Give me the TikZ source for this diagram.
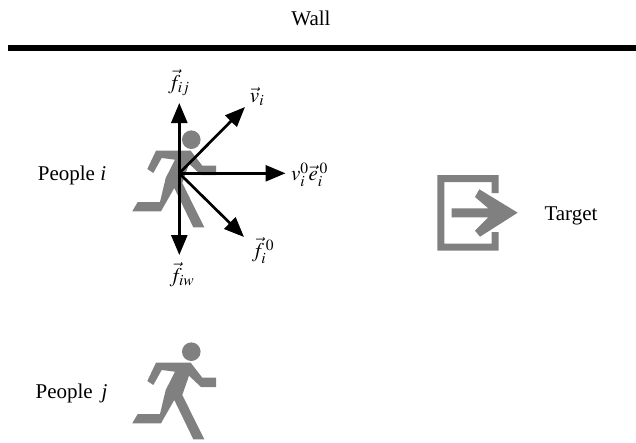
\documentclass[tikz,border=0pt]{standalone}
\usepackage{mathptmx}
\usepackage[no-math]{fontspec}
\setmainfont{Liberation Serif}
\usetikzlibrary{arrows.meta}
\colorlet{signgray}{black!50}
\tikzset{
  x=1pt,y=-1pt,
  lbl/.style={inner sep=0pt,font=\fontsize{21}{25}\selectfont},
  mathlbl/.style={inner sep=0pt,font=\fontsize{21}{25}\selectfont},
  force/.style={line width=2.7pt,-{Triangle[length=20pt,width=16pt]},shorten >=0pt},
  runner/.pic={
    \fill[signgray] (191.3,351.7) circle (9.3);
    \fill[signgray] (156,362.7)--(190.7,362.7)--(202.3,377.7)--(216,377.7)--(216,387)--(201,387)--(189,375.7)--(182.3,395)--(204.3,439.3)--(193.3,439.3)--(174.3,400)--(161,423.3)--(132.3,423.3)--(137.7,414)--(160,414)--(165.7,390)--(175,371.7)--(161.7,370)--(153.3,385)--(147.3,381)--cycle;
  }
}
\begin{document}
\begin{tikzpicture}
\useasboundingbox (0,0) rectangle (636,442);
% wall
\coordinate (wallL) at (8,47.8);
\coordinate (wallR) at (636,47.8);
\draw[line width=5.4pt] (wallL) -- (wallR);
\node[lbl] (wall) at (311,18) {Wall};
% runners
\pic at (0,-212) {runner};
\pic at (0,0) {runner};
\node[lbl] (pi) at (72,175.5) {People \textit{i}};
\node[lbl] (pj) at (71.5,393.5) {People\, \textit{j}};
% target
\fill[signgray] (437.3,175) -- (498.7,175) -- (498.7,193) -- (491.7,193) -- (491.7,182) -- (444.3,182) -- (444.3,243.7) -- (491.7,243.7) -- (491.7,232) -- (498.7,232) -- (498.7,250.7) -- (437.3,250.7) -- cycle;
\fill[white] (476,187) -- (520,212.7) -- (476,238) -- cycle;
\fill[signgray] (451.7,208.3) -- (488.3,208.3) -- (475,197) -- (479.3,189.3) -- (517.7,212.7) -- (480,236.7) -- (475,230.7) -- (488.3,217.3) -- (451.7,217.3) -- cycle;
\node[lbl] (target) at (571,215.5) {Target};
% forces
\coordinate (o) at (179.3,173.3);
\coordinate (up) at (179.3,103);
\coordinate (dn) at (179.3,255);
\coordinate (rt) at (285.5,173.3);
\coordinate (ur) at (245,107);
\coordinate (dr) at (244,237);
\draw[force] (o) -- (up);
\draw[force] (o) -- (dn);
\draw[force] (o) -- (rt);
\draw[force] (o) -- (ur);
\draw[force] (o) -- (dr);
\node[mathlbl] (fij) at (179,83) {$\vec{f}_{ij}$};
\node[mathlbl] (fiw) at (182,275) {$\vec{f}_{iw}$};
\node[mathlbl] (vi) at (257,97) {$\vec{v}_{i}$};
\node[mathlbl] (ve) at (309.5,175) {$v_i^0\vec{e}_i^{\,0}$};
\node[mathlbl] (f0) at (263,251) {$\vec{f}_i^{\,0}$};
\end{tikzpicture}
\end{document}
